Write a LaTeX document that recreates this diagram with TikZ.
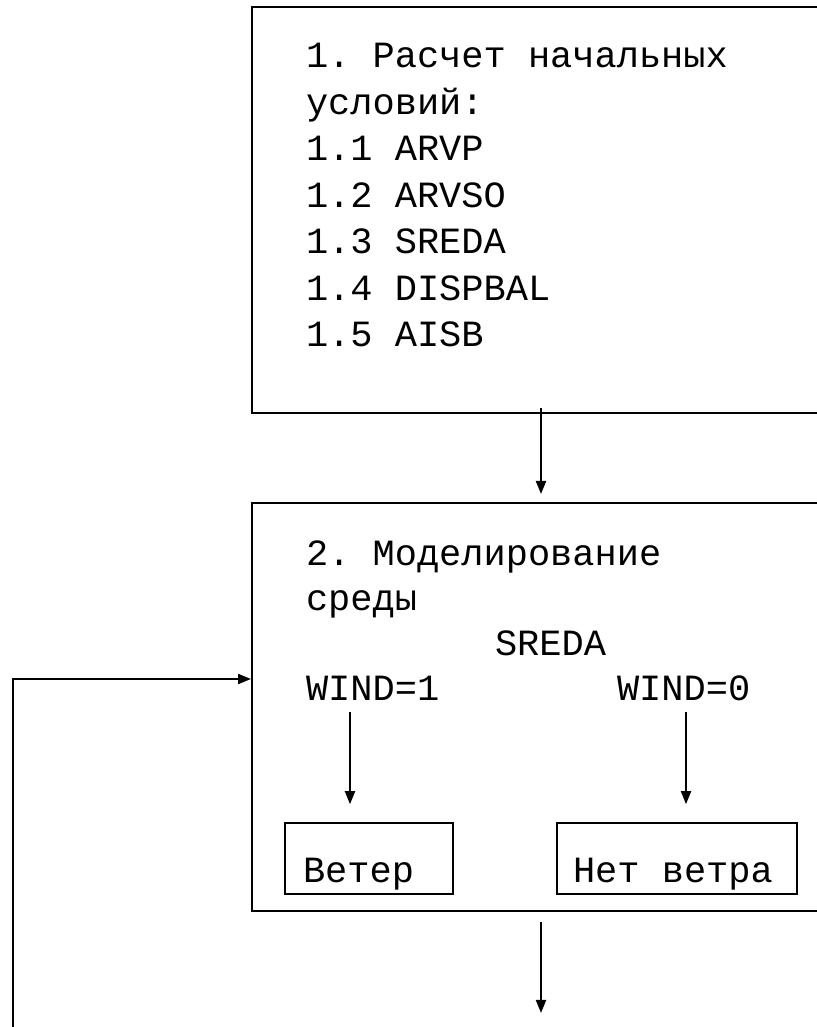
\documentclass[tikz,border=0pt]{standalone}
\usepackage{fontspec}
\setmainfont[WordSpace={1,0,0}]{Liberation Mono}
\frenchspacing
\usepackage{tikz}
\usetikzlibrary{arrows.meta}

\begin{document}
\begin{tikzpicture}[x=10pt, y=10pt, line width=1pt, >={Triangle[length=6.5pt, width=5pt]},
    every node/.style={font={\fontsize{18.5}{23.25}\selectfont}, inner sep=0pt},
    block/.style={draw, rectangle, minimum width=289pt},
    case/.style={draw, rectangle, line width=0.8pt, align=flush left, inner xsep=9pt, text height=30pt, text depth=5.5pt}]
    \useasboundingbox (0,0) rectangle (40.85,51.35);
    \clip (0,0) rectangle (40.85,51.35);

    % Block 1: initial conditions
    \node[block, minimum height=203pt] (init) at (27.05,40.85) {};
    \node[anchor=base west, align=left] (initText) at (15.25,34.0)
        {1. Расчет начальных\\условий:\\1.1 ARVP\\1.2 ARVSO\\1.3 SREDA\\1.4 DISPBAL\\1.5 AISB};

    % Block 2: environment model
    \node[block, minimum height=204pt] (env) at (27.05,16.0) {};
    \node[anchor=base west, align=left, font={\fontsize{18.5}{22.5}\selectfont}] (envText) at (15.25,20.8)
        {2. Моделирование\\среды};
    \node[anchor=base west] (sreda) at (24.7,18.55) {SREDA};
    \node[anchor=base west] (wind1) at (15.25,16.3) {WIND=1};
    \node[anchor=base west] (wind0) at (30.8,16.3) {WIND=0};

    % Wind / no wind
    \node[case, text width=66pt] (veter) at (18.45,8.425) {Ветер};
    \node[case, inner xsep=8pt, text width=104pt] (noveter) at (33.85,8.425) {Нет ветра};

    % Arrows
    \draw[->, shorten <=-3pt, shorten >=4pt] (init.south) -- (env.north);
    \draw[->, shorten <=5pt, shorten >=9pt] ([xshift=-11.3pt]wind1.south) -- ([xshift=-11.3pt]wind1.south |- veter.north);
    \draw[->, shorten <=5pt, shorten >=9pt] ([xshift=1.2pt]wind0.south) -- ([xshift=1.2pt]wind0.south |- noveter.north);

    % Exit and feedback loop
    \coordinate (next) at (27.05,0.7);
    \coordinate (back) at (0.65,0);
    \draw[->, shorten <=5pt] (env.south) -- (next);
    \draw[->] (back) |- ([yshift=14pt]env.west);
\end{tikzpicture}
\end{document}
